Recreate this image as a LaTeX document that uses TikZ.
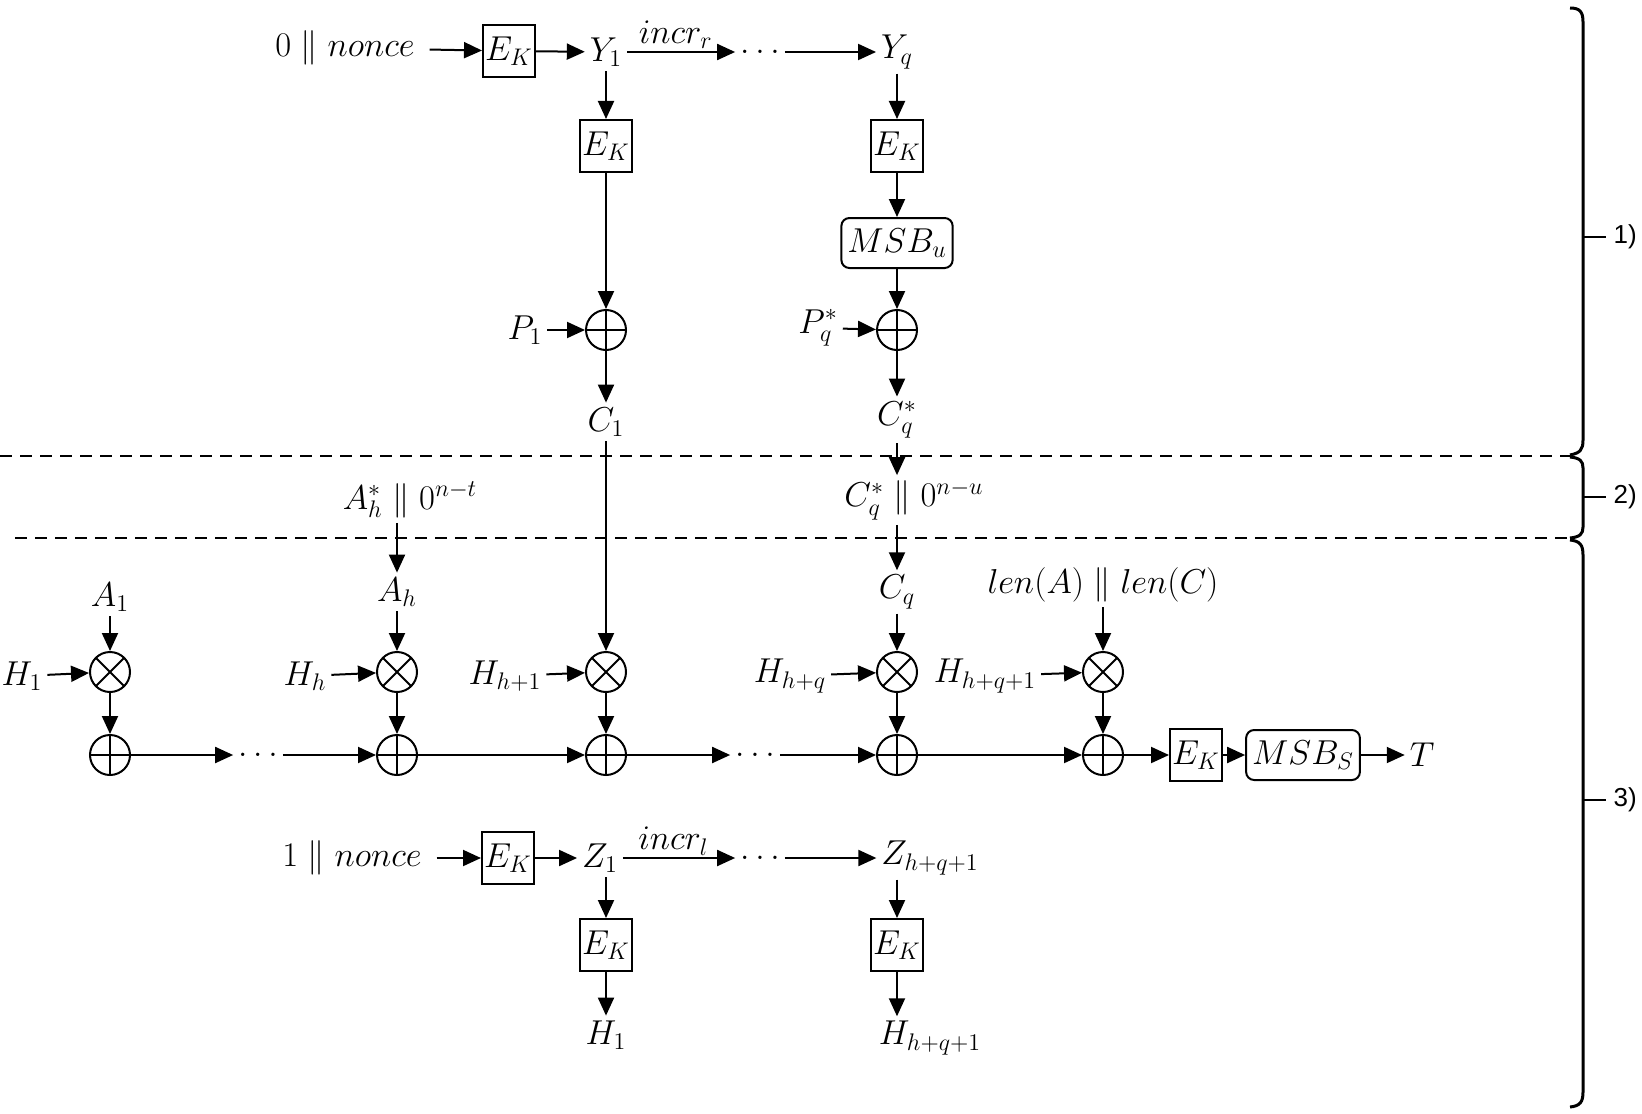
\documentclass[tikz,border=0pt]{standalone}
\usepackage{fontspec}
\newfontfamily\labfont{Liberation Sans}
\usetikzlibrary{arrows.meta,calc}
\begin{document}
\begin{tikzpicture}[x=0.5pt,y=-0.5pt,
  every node/.style={font=\LARGE},
  line width=1pt,
  >={Triangle[length=9pt,width=8pt]},
  ekbox/.style={draw,minimum width=26pt,minimum height=26pt,inner sep=0pt},
  msbbox/.style={draw,rounded corners=4pt,minimum height=25pt,inner sep=3pt},
  oplus/.style={circle,draw,minimum size=20pt,inner sep=0pt,
    path picture={\draw (path picture bounding box.north) -- (path picture bounding box.south)
      (path picture bounding box.west) -- (path picture bounding box.east);}},
  otimes/.style={circle,draw,minimum size=20pt,inner sep=0pt,
    path picture={\draw (path picture bounding box.north west) -- (path picture bounding box.south east)
      (path picture bounding box.north east) -- (path picture bounding box.south west);}},
  txt/.style={inner sep=2pt},
  wide/.style={inner xsep=7pt,inner ysep=2pt},
  sep/.style={dash pattern=on 6pt off 4pt},
  lab/.style={font=\labfont\fontsize{13}{15}\selectfont},
  bracel/.style={line width=1.5pt},
  ]
\useasboundingbox (0,0) rectangle (1642,1113);

% ---- part 1 ----
\node[wide] (n0) at (345,48) {$0 \parallel nonce$};
\node[ekbox] (ek0) at (509,51) {$E_K$};
\node[txt] (y1) at (606,52) {$Y_1$};
\node[txt] (dots1) at (760,52) {$\ldots$};
\node[txt] (yq) at (897,52) {$Y_q$};
\draw[->] (n0) -- (ek0);
\draw[->] (ek0) -- (y1);
\draw[->] (y1) -- node[above,inner sep=1pt,pos=0.45] (incrr) {$incr_r$} (dots1);
\draw[->] (dots1) -- (yq);

\node[ekbox] (ek1) at (606,146) {$E_K$};
\node[oplus] (x1) at (606,330) {};
\node[txt] (p1) at (525,330) {$P_1$};
\node[txt] (c1) at (606,422) {$C_1$};
\draw[->] (y1.south -| ek1.north) -- (ek1.north);
\draw[->] (ek1) -- (x1);
\draw[->] (p1) -- (x1);
\draw[->] (x1) -- (c1);

\node[ekbox] (ek2) at (897,146) {$E_K$};
\node[msbbox] (msbu) at (897,243) {$MSB_u$};
\node[oplus] (x2) at (897,330) {};
\node[txt] (pq) at (818,328) {$P_q^*$};
\node[txt] (cqs) at (897,420) {$C_q^*$};
\draw[->] (yq.south -| ek2.north) -- (ek2.north);
\draw[->] (ek2) -- (msbu);
\draw[->] (msbu) -- (x2);
\draw[->] (pq) -- (x2);
\draw[->] (x2) -- (cqs);

% ---- separators ----
\coordinate (d1a) at (0,456);
\coordinate (d1b) at (1570,456);
\coordinate (d2a) at (15,538);
\coordinate (d2b) at (1570,538);
\draw[sep] (d1a) -- (d1b);
\draw[sep] (d2a) -- (d2b);

% ---- part 2 ----
\node[txt] (cq0) at (914,500) {$C_q^* \parallel 0^{n-u}$};
\node[txt] (ahs) at (410,500) {$A_h^* \parallel 0^{n-t}$};

% ---- part 3 ----
\node[txt] (a1) at (110,597) {$A_1$};
\node[txt] (ah) at (397,592) {$A_h$};
\node[txt] (cq) at (897,592) {$C_q$};
\node[txt] (lenac) at (1103,585) {$len(A) \parallel len(C)$};

\node[otimes] (m1) at (110,672) {};
\node[otimes] (m2) at (397,672) {};
\node[otimes] (m3) at (606,672) {};
\node[otimes] (m4) at (897,672) {};
\node[otimes] (m5) at (1103,672) {};

\node[txt] (h1) at (22,676) {$H_1$};
\node[txt] (hh) at (305,676) {$H_h$};
\node[txt] (hh1) at (505,676) {$H_{h+1}$};
\node[txt] (hhq) at (790,676) {$H_{h+q}$};
\node[txt] (hhq1) at (985,676) {$H_{h+q+1}$};

\node[oplus] (s1) at (110,755) {};
\node[txt] (dots2) at (258,755) {$\ldots$};
\node[oplus] (s2) at (397,755) {};
\node[oplus] (s3) at (606,755) {};
\node[txt] (dots3) at (755,755) {$\ldots$};
\node[oplus] (s4) at (897,755) {};
\node[oplus] (s5) at (1103,755) {};
\node[ekbox] (ek3) at (1196,755) {$E_K$};
\node[msbbox] (msbs) at (1303,755) {$MSB_S$};
\node[txt] (t) at (1422,755) {$T$};

\draw[->] (cqs.south) -- (cqs.south |- cq0.north);
\draw[->] (cq.north |- cq0.south) -- (cq.north);
\draw[->] (ah.north |- ahs.south) -- (ah.north);
\draw[->] (c1.south) -- (m3.north);

\draw[->] (a1) -- (m1);
\draw[->] (ah) -- (m2);
\draw[->] (cq) -- (m4);
\draw[->] (lenac.south -| m5.north) -- (m5.north);

\draw[->] (h1) -- (m1);
\draw[->] (hh) -- (m2);
\draw[->] (hh1) -- (m3);
\draw[->] (hhq) -- (m4);
\draw[->] (hhq1) -- (m5);

\draw[->] (m1) -- (s1);
\draw[->] (m2) -- (s2);
\draw[->] (m3) -- (s3);
\draw[->] (m4) -- (s4);
\draw[->] (m5) -- (s5);

\draw[->] (s1) -- (dots2);
\draw[->] (dots2) -- (s2);
\draw[->] (s2) -- (s3);
\draw[->] (s3) -- (dots3);
\draw[->] (dots3) -- (s4);
\draw[->] (s4) -- (s5);
\draw[->] (s5) -- (ek3);
\draw[->] (ek3) -- (msbs);
\draw[->] (msbs) -- (t);

% ---- Z row ----
\node[wide] (n1) at (352,858) {$1 \parallel nonce$};
\node[ekbox] (ek4) at (508,858) {$E_K$};
\node[txt] (z1) at (600,858) {$Z_1$};
\node[txt] (dots4) at (760,858) {$\ldots$};
\node[txt] (zq) at (930,858) {$Z_{h+q+1}$};
\draw[->] (n1) -- (ek4);
\draw[->] (ek4) -- (z1);
\draw[->] (z1) -- node[above,inner sep=1pt,pos=0.45] (incrl) {$incr_l$} (dots4);
\draw[->] (dots4) -- (zq);

\node[ekbox] (ek5) at (606,945) {$E_K$};
\node[txt] (hout1) at (606,1035) {$H_1$};
\node[ekbox] (ek6) at (897,945) {$E_K$};
\node[txt] (hout2) at (930,1038) {$H_{h+q+1}$};
\draw[->] (ek5.north |- z1.south) -- (ek5.north);
\draw[->] (ek5) -- (hout1);
\draw[->] (ek6.north |- zq.south) -- (ek6.north);
\draw[->] (ek6.south) -- (ek6.south |- hout2.north);

% ---- braces ----
\draw[bracel] (1570,8) .. controls (1580,8) and (1583,12) .. (1583,22) -- (1583,440)
  .. controls (1583,450) and (1580,453) .. (1570,455);
\draw[bracel] (1570,457) .. controls (1580,458) and (1583,461) .. (1583,468) -- (1583,527)
  .. controls (1583,534) and (1580,537) .. (1570,538);
\draw[bracel] (1570,540) .. controls (1580,541) and (1583,545) .. (1583,555) -- (1583,1092)
  .. controls (1583,1102) and (1580,1106) .. (1570,1107);
\node[lab,anchor=west] (l1) at (1606,237) {1)};
\node[lab,anchor=west] (l2) at (1606,497) {2)};
\node[lab,anchor=west] (l3) at (1606,800) {3)};
\draw (1583,237) -- (l1.west);
\draw (1583,497) -- (l2.west);
\draw (1583,800) -- (l3.west);
\end{tikzpicture}
\end{document}
